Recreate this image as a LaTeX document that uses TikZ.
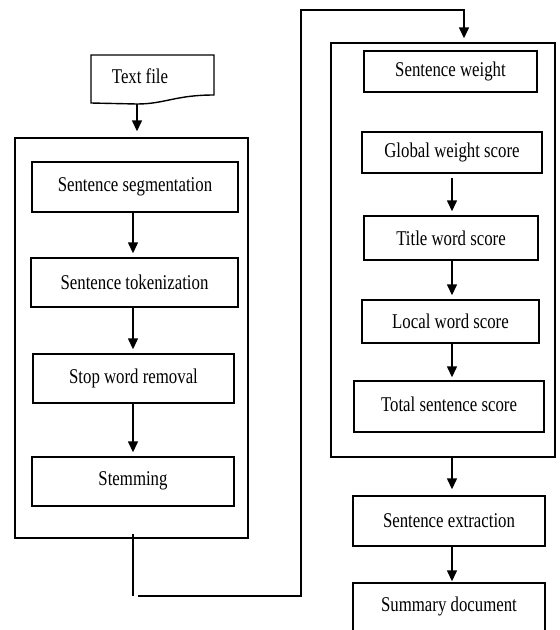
\documentclass[tikz,border=0pt]{standalone}
\usepackage{fontspec}
\setmainfont{Liberation Serif}[FakeStretch=0.8]
\usetikzlibrary{arrows.meta}

\begin{document}
\begin{tikzpicture}[x=1pt, y=-1pt, line width=1.4pt,
  stepbox/.style={draw, inner sep=0pt, font=\fontsize{21}{24}\selectfont},
  panel/.style={draw, inner sep=0pt},
  flow/.style={-{Triangle[length=11pt,width=10pt]}, shorten >=4pt}]
\useasboundingbox (0,0) rectangle (560,630);
\clip (0,0) rectangle (560,630);

\draw (91,55) -- (214,55) -- (214,95) .. controls (175,95) and (165,104) .. (137,104) -- (91,103) -- cycle;
\node[font=\fontsize{21}{24}\selectfont] (textfile) at (140,76) {Text file};
\coordinate (textend) at (137,104);

\node[panel, minimum width=233pt, minimum height=400pt] (prepanel) at (131.5,338) {};
\node[stepbox, minimum width=206pt, minimum height=50pt] (seg) at (135,187) {Sentence segmentation};
\node[stepbox, minimum width=207pt, minimum height=49pt] (tok) at (134.5,282.5) {Sentence tokenization};
\node[stepbox, minimum width=201pt, minimum height=49pt] (stop) at (133.5,378.5) {Stop word removal};
\node[stepbox, minimum width=202pt, minimum height=49pt, text depth=6pt] (stem) at (133,481.5) {Stemming};

\node[panel, minimum width=224pt, minimum height=414pt] (scorepanel) at (443,250) {};
\node[stepbox, minimum width=173pt, minimum height=41pt] (weight) at (450.5,71.5) {Sentence weight};
\node[stepbox, minimum width=180pt, minimum height=41pt] (global) at (452,152.5) {Global weight score};
\node[stepbox, minimum width=174pt, minimum height=44pt] (title) at (451,238) {Title word score};
\node[stepbox, minimum width=177pt, minimum height=43pt] (local) at (450.5,321.5) {Local word score};
\node[stepbox, minimum width=190pt, minimum height=51pt, text depth=5pt] (total) at (449,406.5) {Total sentence score};

\node[stepbox, minimum width=192pt, minimum height=50pt] (extract) at (449,521) {Sentence extraction};
\node[stepbox, minimum width=192pt, minimum height=50pt, text depth=8pt] (summary) at (449,608) {Summary document};

\coordinate (bendA) at (133,596);
\coordinate (bendB) at (301,596);
\coordinate (bendC) at (301,10);

\draw[flow, shorten >=6pt] (textend) -- (textend |- prepanel.north);
\draw[flow] (seg.south -| bendA) -- (tok.north -| bendA);
\draw[flow] (tok.south -| bendA) -- (stop.north -| bendA);
\draw[flow] (stop.south -| bendA) -- (stem.north -| bendA);

\draw ([yshift=5pt]prepanel.south -| bendA) -- (bendA);
\draw[flow] ([xshift=5pt]bendA) -- (bendB) -- (bendC) -| ([xshift=21pt]scorepanel.north);

\draw[flow, shorten <=4pt] (global.south) -- (global.south |- title.north);
\draw[flow] (title.south -| global.south) -- (local.north -| global.south);
\draw[flow, shorten >=3pt] (local.south -| global.south) -- (total.north -| global.south);
\draw[flow, shorten >=6pt] (scorepanel.south -| global.south) -- (extract.north -| global.south);
\draw[flow, shorten >=1pt] (extract.south -| global.south) -- (summary.north -| global.south);
\end{tikzpicture}
\end{document}
